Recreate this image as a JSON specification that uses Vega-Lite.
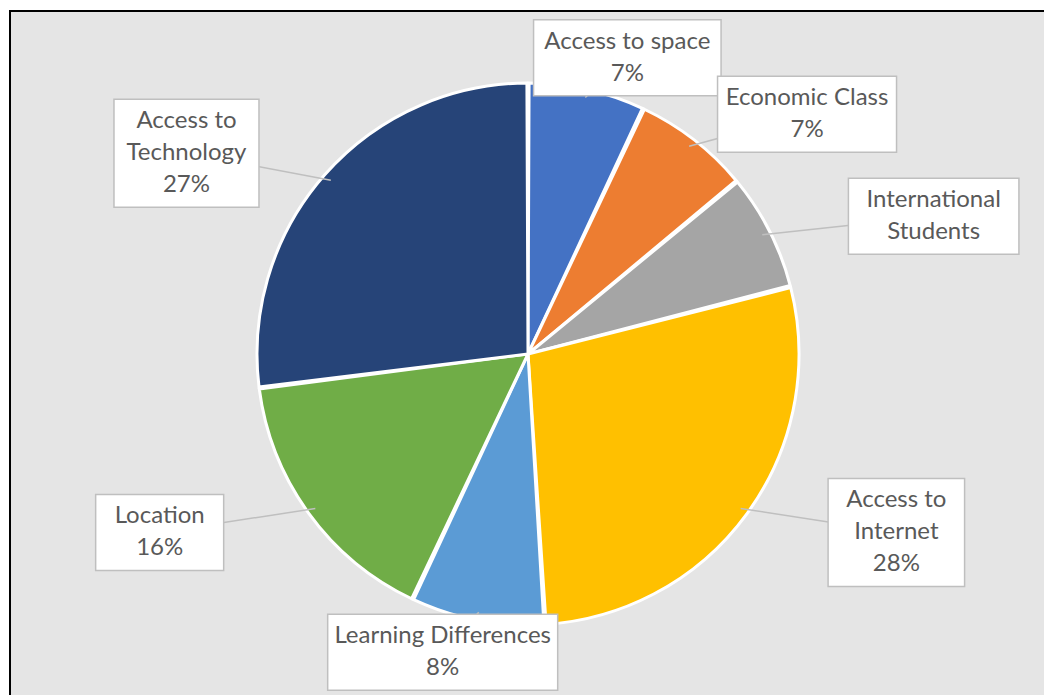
{
  "$schema": "https://vega.github.io/schema/vega-lite/v6.json",
  "width": 1044,
  "height": 695,
  "autosize": {"type": "fit", "contains": "padding"},
  "padding": {"left": 10, "top": 11, "right": -2, "bottom": -2},
  "background": "white",
  "config": {"view": {"fill": "#e5e5e5", "stroke": "#000000", "strokeWidth": 2}},
  "data": {
    "values": [
      {"category": "Access to space", "value": 7, "label": "Access to space\n7%"},
      {"category": "Economic Class", "value": 7, "label": "Economic Class\n7%"},
      {"category": "International Students", "value": 7, "label": "International\nStudents"},
      {"category": "Access to Internet", "value": 28, "label": "Access to\nInternet\n28%"},
      {"category": "Learning Differences", "value": 8, "label": "Learning Differences\n8%"},
      {"category": "Location", "value": 16, "label": "Location\n16%"},
      {"category": "Access to Technology", "value": 27, "label": "Access to\nTechnology\n27%"}
    ]
  },
  "transform": [
    {"window": [{"op": "row_number", "as": "idx"}, {"op": "sum", "field": "value", "as": "cum"}], "frame": [null, 0]},
    {"joinaggregate": [{"op": "sum", "field": "value", "as": "total"}]},
    {"calculate": "2 * PI * (datum.cum - datum.value / 2) / datum.total", "as": "mid"},
    {"calculate": "split(datum.label, '\\n')", "as": "lines"},
    {"calculate": "length(datum.lines)", "as": "nl"},
    {"calculate": "max(length(datum.lines[0]), datum.nl > 1 ? length(datum.lines[1]) : 0, datum.nl > 2 ? length(datum.lines[2]) : 0)", "as": "maxlen"},
    {"calculate": "1.68 * sin(datum.mid)", "as": "bx"},
    {"calculate": "1.12 * cos(datum.mid)", "as": "by"},
    {"calculate": "(8.5 * datum.maxlen + 60) / 2 / 271", "as": "hw"},
    {"calculate": "(datum.nl * 32 + 12) / 2 / 271", "as": "hh"},
    {"calculate": "datum.bx - datum.hw", "as": "x1"},
    {"calculate": "datum.bx + datum.hw", "as": "x2"},
    {"calculate": "datum.by - datum.hh", "as": "y1"},
    {"calculate": "datum.by + datum.hh", "as": "y2"},
    {"calculate": "datum.by + (datum.nl - 1) * 16 / 271", "as": "ty"},
    {"calculate": "0.97 * sin(datum.mid)", "as": "lx"},
    {"calculate": "0.97 * cos(datum.mid)", "as": "ly"}
  ],
  "layer": [
    {
      "mark": {"type": "arc", "outerRadius": 271, "stroke": "white", "strokeWidth": 3, "padAngle": 0.008},
      "encoding": {
        "theta": {"field": "value", "type": "quantitative", "stack": true},
        "order": {"field": "idx", "type": "quantitative"},
        "color": {
          "field": "category",
          "type": "nominal",
          "legend": null,
          "scale": {
            "domain": ["Access to space", "Economic Class", "International Students", "Access to Internet", "Learning Differences", "Location", "Access to Technology"],
            "range": ["#4472c4", "#ed7d31", "#a5a5a5", "#ffc000", "#5b9bd5", "#70ad47", "#264478"]
          }
        }
      }
    },
    {
      "mark": {"type": "rule", "stroke": "#bfbfbf", "strokeWidth": 1.5},
      "encoding": {
        "x": {"field": "bx", "type": "quantitative", "axis": null, "scale": {"domain": [-1.9114, 1.9114], "nice": false, "zero": false}},
        "y": {"field": "by", "type": "quantitative", "axis": null, "scale": {"domain": [-1.2657, 1.2657], "nice": false, "zero": false}},
        "x2": {"field": "lx"},
        "y2": {"field": "ly"}
      }
    },
    {
      "mark": {"type": "rect", "fill": "white", "stroke": "#bfbfbf", "strokeWidth": 1.5},
      "encoding": {
        "x": {"field": "x1", "type": "quantitative"},
        "x2": {"field": "x2"},
        "y": {"field": "y1", "type": "quantitative"},
        "y2": {"field": "y2"}
      }
    },
    {
      "mark": {"type": "text", "font": "Lato", "fontSize": 24, "lineHeight": 32, "lineBreak": "\n", "align": "center", "baseline": "middle", "color": "#595959"},
      "encoding": {
        "x": {"field": "bx", "type": "quantitative"},
        "y": {"field": "ty", "type": "quantitative"},
        "text": {"field": "label", "type": "nominal"}
      }
    }
  ]
}
